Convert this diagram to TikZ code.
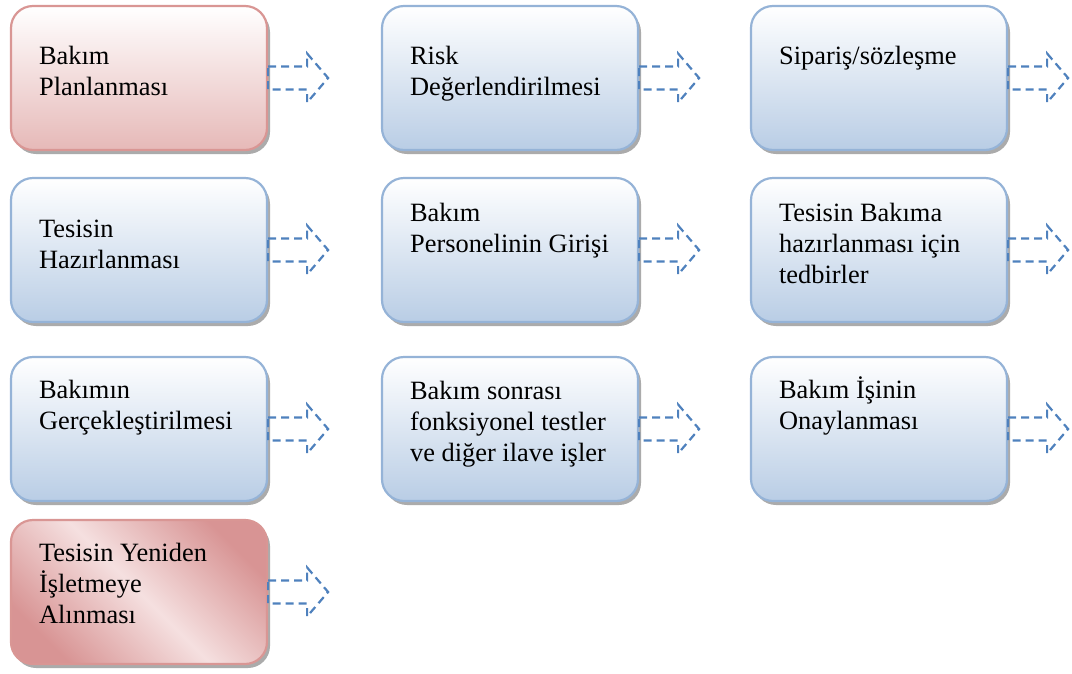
\documentclass[tikz,border=0pt]{standalone}
\usepackage{fontspec}
\setmainfont{Liberation Serif}
\usetikzlibrary{shadows,calc}
\definecolor{boxblue}{RGB}{185,205,229}
\definecolor{lineblue}{RGB}{149,179,215}
\definecolor{boxpink}{RGB}{230,185,184}
\definecolor{linepink}{RGB}{217,150,148}
\definecolor{deeppink}{RGB}{216,148,148}
\definecolor{palepink}{RGB}{245,224,224}
\definecolor{arrowblue}{RGB}{79,129,189}

\begin{document}
\begin{tikzpicture}[x=1pt, y=-1pt,
    stage/.style={draw=lineblue, line width=2.2pt, rounded corners=22pt, minimum width=256pt, minimum height=144pt,
        top color=white, bottom color=boxblue,
        drop shadow={shadow xshift=3pt, shadow yshift=-4pt, fill=black, opacity=0.33}},
    redstage/.style={stage, draw=linepink, top color=white, bottom color=boxpink},
    stagetext/.style={anchor=base west, align=left, inner sep=0pt, font=\fontsize{26.4}{31}\selectfont},
    flow/.style={draw=arrowblue, line width=2.2pt, dash pattern=on 8pt off 5pt}
]
\useasboundingbox (0,0) rectangle (1072,673);

\node[redstage] (plan) at (139,78) {};
\node[stage] (risk) at (510,78) {};
\node[stage] (order) at (879,78) {};
\node[stage] (prep) at (139,250) {};
\node[stage] (staff) at (510,250) {};
\node[stage] (measure) at (879,250) {};
\node[stage] (work) at (139,429) {};
\node[stage] (test) at (510,429) {};
\node[stage] (approve) at (879,429) {};
\node[stage, draw=linepink, top color=deeppink, bottom color=deeppink, middle color=palepink, shading angle=-45] (restart) at (139,592) {};

% text is placed by the baseline of its last line
\node[stagetext] (planT) at ($(plan.north west)+(29,91)$) {Bakım\\Planlanması};
\node[stagetext] (riskT) at ($(risk.north west)+(29,91)$) {Risk\\Değerlendirilmesi};
\node[stagetext] (orderT) at ($(order.north west)+(29,60)$) {Sipariş/sözleşme};
\node[stagetext] (prepT) at ($(prep.north west)+(29,92)$) {Tesisin\\Hazırlanması};
\node[stagetext] (staffT) at ($(staff.north west)+(29,76)$) {Bakım\\Personelinin Girişi};
\node[stagetext] (measureT) at ($(measure.north west)+(29,107)$) {Tesisin Bakıma\\hazırlanması için\\tedbirler};
\node[stagetext] (workT) at ($(work.north west)+(29,74)$) {Bakımın\\Gerçekleştirilmesi};
\node[stagetext] (testT) at ($(test.north west)+(29,106)$) {Bakım sonrası\\fonksiyonel testler\\ve diğer ilave işler};
\node[stagetext] (approveT) at ($(approve.north west)+(29,74)$) {Bakım İşinin\\Onaylanması};
\node[stagetext] (restartT) at ($(restart.north west)+(29,105)$) {Tesisin Yeniden\\İşletmeye\\Alınması};

% dashed block arrows
\foreach \b in {plan,risk,order,prep,staff,measure,work,test,approve,restart}
    \draw[flow] ($(\b.east)+(0,-11.5)$) -- ++(39,0) -- ++(0,-13) -- ++(21,24.5) -- ++(-21,24.5) -- ++(0,-13) -- ++(-39,0) -- cycle;
\end{tikzpicture}
\end{document}
